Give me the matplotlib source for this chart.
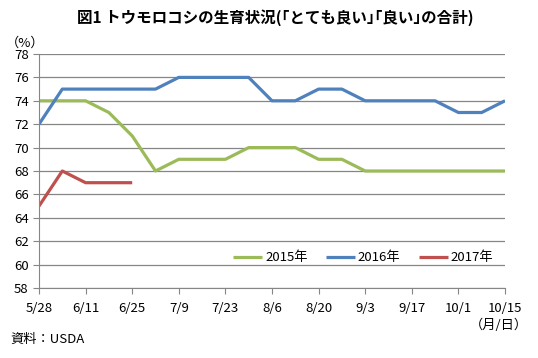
import matplotlib
matplotlib.use('Agg')
import matplotlib.pyplot as plt

plt.rcParams['font.family'] = ['Noto Sans CJK JP', 'DejaVu Sans']

# Weekly crop condition (good + excellent), %
dates = ['5/28', '6/4', '6/11', '6/18', '6/25', '7/2', '7/9', '7/16', '7/23', '7/30', '8/6',
         '8/13', '8/20', '8/27', '9/3', '9/10', '9/17', '9/24', '10/1', '10/8', '10/15']
y2015 = [74, 74, 74, 73, 71, 68, 69, 69, 69, 70, 70, 70, 69, 69, 68, 68, 68, 68, 68, 68, 68]
y2016 = [72, 75, 75, 75, 75, 75, 76, 76, 76, 76, 74, 74, 75, 75, 74, 74, 74, 74, 73, 73, 74]
y2017 = [65, 68, 67, 67, 67]

fig = plt.figure(figsize=(5.38, 3.58), dpi=100)
ax = fig.add_axes([39 / 538, 1 - 288 / 358, (505 - 39) / 538, (288 - 54) / 358])

x = list(range(len(dates)))
ax.plot(x, y2015, color='#9BBB59', lw=2.3, label='2015年', solid_capstyle='butt')
ax.plot(x, y2016, color='#4F81BD', lw=2.3, label='2016年', solid_capstyle='butt')
ax.plot(x[:len(y2017)], y2017, color='#C0504D', lw=2.3, label='2017年', solid_capstyle='butt')

ax.set_xlim(0, 20)
ax.set_ylim(58, 78)
ax.set_yticks(range(58, 79, 2))
ax.set_xticks(x[::2])
ax.set_xticklabels(dates[::2])
ax.grid(axis='y', color='#868686', lw=0.9)
ax.set_axisbelow(True)
for s in ['top', 'right']:
    ax.spines[s].set_visible(False)
for s in ['left', 'bottom']:
    ax.spines[s].set_color('#868686')
ax.tick_params(axis='both', colors='#868686', labelcolor='black', labelsize=9.5, length=4)
ax.tick_params(axis='x', pad=6)

ax.legend(loc='lower right', bbox_to_anchor=(1.0, 0.05), ncol=3, frameon=False,
          fontsize=9.5, handlelength=2.2, columnspacing=1.4, handletextpad=0.2)

fig.text(275 / 538, 1 - 18 / 358, '図1 トウモロコシの生育状況(｢とても良い｣｢良い｣の合計)',
         ha='center', va='center', fontsize=11.2, fontweight='bold')
fig.text(6 / 538, 1 - 43 / 358, '（%）', ha='left', va='center', fontsize=9.5)
fig.text(528 / 538, 1 - 325 / 358, '（月/日）', ha='right', va='center', fontsize=9.5)
fig.text(10 / 538, 1 - 339 / 358, '資料：USDA', ha='left', va='center', fontsize=9.5)

fig.savefig('out.png', dpi=100)
